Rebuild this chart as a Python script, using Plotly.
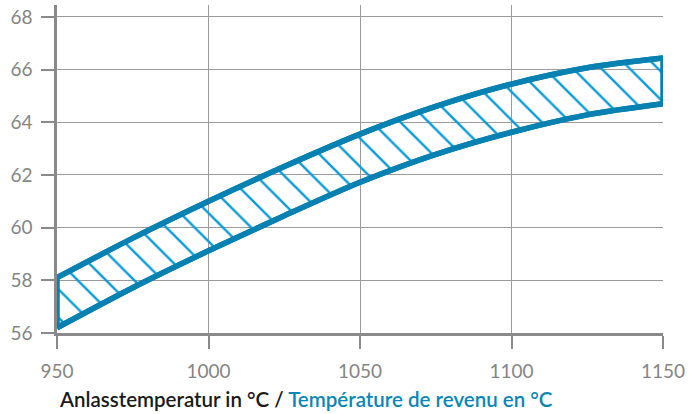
import plotly.graph_objects as go

temps = [950, 975, 1000, 1025, 1050, 1075, 1100, 1125, 1150]
upper = [58.1, 59.6, 61.0, 62.32, 63.55, 64.6, 65.45, 66.07, 66.44]
lower = [56.2, 57.72, 59.12, 60.45, 61.72, 62.78, 63.62, 64.28, 64.7]
xticks = [950, 1000, 1050, 1100, 1150]
yticks = [56, 58, 60, 62, 64, 66, 68]

LINE = "#0681b2"
fig = go.Figure()
fig.add_trace(go.Scatter(
    x=temps, y=lower, mode="lines",
    line=dict(color=LINE, width=5.5, shape="spline", smoothing=0.8),
    hoverinfo="skip", showlegend=False,
))
fig.add_trace(go.Scatter(
    x=temps, y=upper, mode="lines", fill="tonexty",
    line=dict(color=LINE, width=5.5, shape="spline", smoothing=0.8),
    fillcolor="rgba(0,0,0,0)",
    fillpattern=dict(shape="\\", size=20, solidity=0.12, fgcolor="#0a9ad8", fgopacity=1,
                     bgcolor="rgba(0,0,0,0)", fillmode="replace"),
    hoverinfo="skip", showlegend=False,
))
for i in (0, -1):
    fig.add_trace(go.Scatter(
        x=[temps[i], temps[i]], y=[lower[i], upper[i]], mode="lines",
        line=dict(color=LINE, width=5.5),
        hoverinfo="skip", showlegend=False,
    ))
for ys in (lower, upper):
    fig.add_trace(go.Scatter(
        x=temps, y=ys, mode="lines",
        line=dict(color=LINE, width=5.5, shape="spline", smoothing=0.8),
        hoverinfo="skip", showlegend=False,
    ))

axis_common = dict(
    showgrid=True, gridcolor="#9b9b9b", gridwidth=1.3,
    showline=True, linecolor="#8a8a8a", linewidth=2.5,
    ticks="outside", ticklen=13, tickcolor="#8a8a8a", tickwidth=1.5,
    tickfont=dict(family="Lato", size=19, color="#858585"),
    zeroline=False, automargin=False,
)
fig.update_xaxes(range=[950, 1150], tickvals=xticks, ticklabelstandoff=6, **axis_common)
fig.update_yaxes(range=[56, 68.45], tickvals=yticks, ticklabelstandoff=5, **axis_common)

fig.add_annotation(
    xref="paper", yref="paper", x=0, y=-0.2, xanchor="left", yanchor="middle",
    showarrow=False,
    text="Anlasstemperatur in °C / <span style='color:#0a86b8'>Température de revenu en °C</span>",
    font=dict(family="Lato", size=20.5, color="#1a1a1a", weight=600),
)

fig.update_layout(
    width=692, height=414,
    margin=dict(l=57, r=29, t=5, b=81),
    paper_bgcolor="white", plot_bgcolor="white",
)
fig.write_html("out.html", config={"displayModeBar": False},
               post_script="document.body.style.margin='0';")
